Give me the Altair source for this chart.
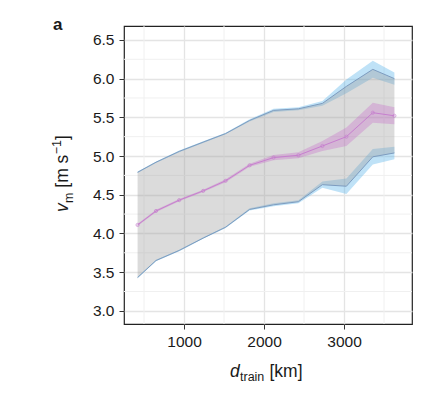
import altair as alt
import pandas as pd

# ---- data ----
d_train = [420, 650, 940, 1240, 1520, 1820, 2120, 2430, 2730, 3030, 3360, 3630]
v_mean = [4.11, 4.29, 4.43, 4.55, 4.68, 4.88, 4.98, 5.01, 5.13, 5.25, 5.56, 5.52]
v_mean_hw = [0.015, 0.015, 0.015, 0.015, 0.02, 0.02, 0.035, 0.04, 0.065, 0.12, 0.13, 0.11]
v_upper = [4.79, 4.92, 5.06, 5.18, 5.29, 5.46, 5.59, 5.61, 5.68, 5.90, 6.12, 6.00]
v_upper_hw = [0.01, 0.01, 0.01, 0.01, 0.01, 0.015, 0.02, 0.02, 0.03, 0.09, 0.11, 0.08]
v_lower = [3.43, 3.65, 3.78, 3.94, 4.08, 4.31, 4.37, 4.41, 4.63, 4.61, 4.99, 5.04]
v_lower_hw = [0.01, 0.01, 0.01, 0.01, 0.01, 0.015, 0.02, 0.02, 0.04, 0.10, 0.10, 0.08]

x_ticks = [1000, 2000, 3000]
x_minor = [500, 1500, 2500, 3500]
y_ticks = [3.0, 3.5, 4.0, 4.5, 5.0, 5.5, 6.0, 6.5]
y_minor = [3.25, 3.75, 4.25, 4.75, 5.25, 5.75, 6.25]

x_domain = [250, 3850]
y_domain = [2.83, 6.68]

df = pd.DataFrame({
    "d": d_train,
    "m": v_mean,
    "m_lo": [a - b for a, b in zip(v_mean, v_mean_hw)],
    "m_hi": [a + b for a, b in zip(v_mean, v_mean_hw)],
    "u": v_upper,
    "u_lo": [a - b for a, b in zip(v_upper, v_upper_hw)],
    "u_hi": [a + b for a, b in zip(v_upper, v_upper_hw)],
    "l": v_lower,
    "l_lo": [a - b for a, b in zip(v_lower, v_lower_hw)],
    "l_hi": [a + b for a, b in zip(v_lower, v_lower_hw)],
})

FONT = "Liberation Sans"
xs = alt.Scale(domain=x_domain, nice=False, zero=False)
ys = alt.Scale(domain=y_domain, nice=False, zero=False)

def X(f):
    return alt.X(f, type="quantitative", scale=xs,
                 axis=alt.Axis(values=x_ticks, title=None, format="d"))

def Y(f):
    return alt.Y(f, type="quantitative", scale=ys,
                 axis=alt.Axis(values=y_ticks, title=None, format=".1f"))

base = alt.Chart(df)

grid_x = alt.Chart(pd.DataFrame({"x": x_minor})).mark_rule(
    color="#f0f0f0", strokeWidth=1).encode(x=X("x:Q"))
grid_y = alt.Chart(pd.DataFrame({"y": y_minor})).mark_rule(
    color="#f0f0f0", strokeWidth=1).encode(y=Y("y:Q"))

blue = "#56B4E9"
up_band = base.mark_area(color=blue, opacity=0.38).encode(x=X("d:Q"), y=Y("u_lo:Q"), y2="u_hi:Q")
lo_band = base.mark_area(color=blue, opacity=0.38).encode(x=X("d:Q"), y=Y("l_lo:Q"), y2="l_hi:Q")
gray = base.mark_area(color="#9b9b9b", opacity=0.36).encode(x=X("d:Q"), y=Y("l:Q"), y2="u:Q")
up_line = base.mark_line(color="#7d9cc0", strokeWidth=1).encode(x=X("d:Q"), y=Y("u:Q"))
lo_line = base.mark_line(color="#7d9cc0", strokeWidth=1).encode(x=X("d:Q"), y=Y("l:Q"))

purple = "#c77fcf"
m_band = base.mark_area(color="#c45cc8", opacity=0.3).encode(x=X("d:Q"), y=Y("m_lo:Q"), y2="m_hi:Q")
m_line = base.mark_line(color=purple, strokeWidth=1).encode(x=X("d:Q"), y=Y("m:Q"))
m_pts = base.mark_point(color=purple, filled=False, size=10, strokeWidth=1).encode(x=X("d:Q"), y=Y("m:Q"))

def txt(s, x, y, size, angle=0, style="normal", weight="normal", base_="alphabetic"):
    return alt.Chart(pd.DataFrame({"t": [s]})).mark_text(
        align="left", baseline=base_, font=FONT, fontSize=size, fontStyle=style,
        fontWeight=weight, angle=angle, color="#1a1a1a",
    ).encode(x=alt.value(x), y=alt.value(y), text="t:N")

TS = 17.5
SS = 12.5
titles = [
    # x title: d_train [km]
    txt("d", 106, 351, TS, style="italic"),
    txt("train", 116, 355, SS),
    txt("[km]", 145.5, 351, TS),
    # y title: v_m [m s^-1]
    txt("v", -56, 186, TS, angle=270, style="italic"),
    txt("m", -51.5, 177, SS, angle=270),
    txt("[m s", -56, 161.7, TS, angle=270),
    txt("\u22121", -63, 128.2, SS, angle=270),
    txt("]", -56, 114.0, TS, angle=270),
    # panel label
    txt("a", -71, 4, 17, weight="bold"),
]

chart = alt.layer(
    grid_x, grid_y, up_band, lo_band, gray, up_line, lo_line,
    m_band, m_line, m_pts, *titles
).properties(
    width=288, height=298,
    autosize=alt.AutoSizeParams(type="none"),
    padding={"left": 116, "top": 18, "right": 10, "bottom": 60},
).configure_view(
    stroke="#222", strokeWidth=1.2
).configure_axis(
    domain=False,
    grid=True, gridColor="#e4e4e4", gridWidth=1.3,
    ticks=True, tickColor="#333", tickSize=5, tickWidth=1,
    labelFont=FONT, labelFontSize=15.5, labelColor="#1a1a1a",
).configure_axisY(labelPadding=5).configure_axisX(labelPadding=5)

chart.save("out.html", embed_options={"renderer": "svg", "actions": False})
